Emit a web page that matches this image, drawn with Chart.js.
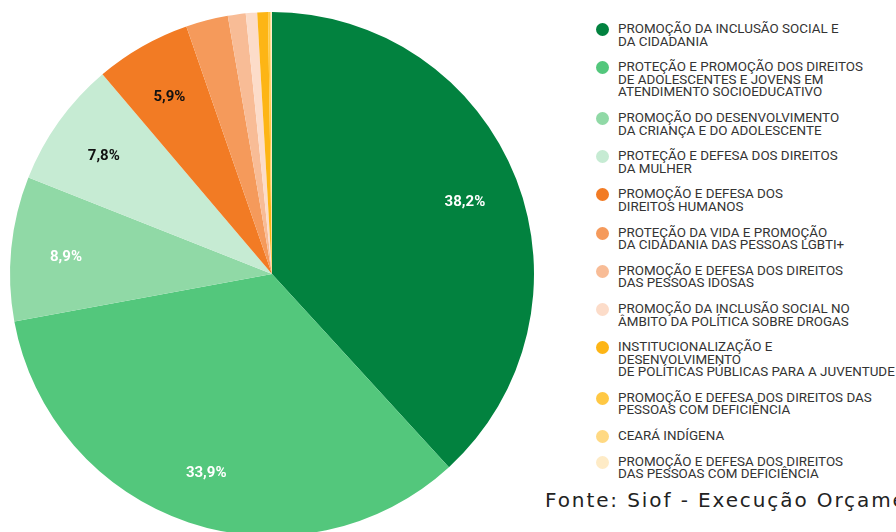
<!DOCTYPE html>
<html>
<head>
<meta charset="utf-8">
<script src="https://cdn.jsdelivr.net/npm/chart.js@4"></script>
<style>
  html, body { margin: 0; padding: 0; background: #fff; width: 896px; height: 532px; overflow: hidden; }
  #pie { position: absolute; left: 0; top: 0; }
  #legend { position: absolute; left: 596px; top: 23px; font-family: Roboto, sans-serif; font-size: 13.4px; color: #333; }
  .item { position: relative; padding-left: 22px; margin-bottom: 13px; line-height: 12.6px; white-space: nowrap; }
  .dot { position: absolute; left: 0; top: 0; width: 13px; height: 13px; border-radius: 50%; }
  #fonte { position: absolute; left: 545px; top: 488px; font-family: "DejaVu Sans", sans-serif; font-size: 20px; letter-spacing: 1.9px; color: #222; white-space: nowrap; }
</style>
</head>
<body>
<canvas id="pie" width="544" height="548"></canvas>
<div id="legend"></div>
<div id="fonte">Fonte: Siof - Execução Orçamentária</div>
<script>
// programas (ordem do gráfico, sentido horário a partir do topo)
const categories = [
  ['PROMOÇÃO DA INCLUSÃO SOCIAL E', 'DA CIDADANIA'],
  ['PROTEÇÃO E PROMOÇÃO DOS DIREITOS', 'DE ADOLESCENTES E JOVENS EM', 'ATENDIMENTO SOCIOEDUCATIVO'],
  ['PROMOÇÃO DO DESENVOLVIMENTO', 'DA CRIANÇA E DO ADOLESCENTE'],
  ['PROTEÇÃO E DEFESA DOS DIREITOS', 'DA MULHER'],
  ['PROMOÇÃO E DEFESA DOS', 'DIREITOS HUMANOS'],
  ['PROTEÇÃO DA VIDA E PROMOÇÃO', 'DA CIDADANIA DAS PESSOAS LGBTI+'],
  ['PROMOÇÃO E DEFESA DOS DIREITOS', 'DAS PESSOAS IDOSAS'],
  ['PROMOÇÃO DA INCLUSÃO SOCIAL NO', 'ÂMBITO DA POLÍTICA SOBRE DROGAS'],
  ['INSTITUCIONALIZAÇÃO E', 'DESENVOLVIMENTO', 'DE POLÍTICAS PÚBLICAS PARA A JUVENTUDE'],
  ['PROMOÇÃO E DEFESA DOS DIREITOS DAS', 'PESSOAS COM DEFICIÊNCIA'],
  ['CEARÁ INDÍGENA'],
  ['PROMOÇÃO E DEFESA DOS DIREITOS', 'DAS PESSOAS COM DEFICIÊNCIA']
];

// participação na execução (%)
const shares = [38.2, 33.9, 8.9, 7.8, 5.9, 2.6, 1.1, 0.7, 0.66, 0.14, 0.06, 0.04];

const colors = ['#02823f', '#53c77c', '#90d9a6', '#c6ebd3', '#f27b24', '#f59a5b',
                '#f8bc96', '#fcdcc9', '#fdb515', '#ffc844', '#ffd983', '#feebc6'];

// cor do rótulo em cada fatia
const labelColors = ['#fff', '#fff', '#fff', '#111', '#111'];
const minLabel = 5;

const sliceLabels = {
  id: 'sliceLabels',
  afterDatasetsDraw(chart) {
    const ctx = chart.ctx;
    const meta = chart.getDatasetMeta(0);
    ctx.save();
    ctx.font = 'bold 15px Roboto, sans-serif';
    ctx.textAlign = 'center';
    ctx.textBaseline = 'middle';
    meta.data.forEach((arc, i) => {
      const v = shares[i];
      if (v < minLabel) return;
      const mid = (arc.startAngle + arc.endAngle) / 2;
      const r = arc.outerRadius * 0.79;
      ctx.fillStyle = labelColors[i] || '#111';
      ctx.fillText(v.toFixed(1).replace('.', ',') + '%', arc.x + Math.cos(mid) * r, arc.y + Math.sin(mid) * r + 3);
    });
    ctx.restore();
  }
};

const chart = new Chart(document.getElementById('pie'), {
  type: 'pie',
  data: {
    labels: categories,
    datasets: [{
      data: shares,
      backgroundColor: colors,
      borderWidth: 0
    }]
  },
  options: {
    responsive: false,
    animation: false,
    layout: { padding: 10 },
    plugins: {
      legend: { display: false },
      tooltip: { enabled: false }
    }
  },
  plugins: [sliceLabels]
});

// legenda em html
const legend = document.getElementById('legend');
chart.data.labels.forEach((lines, i) => {
  const item = document.createElement('div');
  item.className = 'item';
  const dot = document.createElement('span');
  dot.className = 'dot';
  dot.style.background = chart.data.datasets[0].backgroundColor[i];
  item.appendChild(dot);
  item.insertAdjacentHTML('beforeend', lines.join('<br>'));
  legend.appendChild(item);
});
</script>
</body>
</html>
